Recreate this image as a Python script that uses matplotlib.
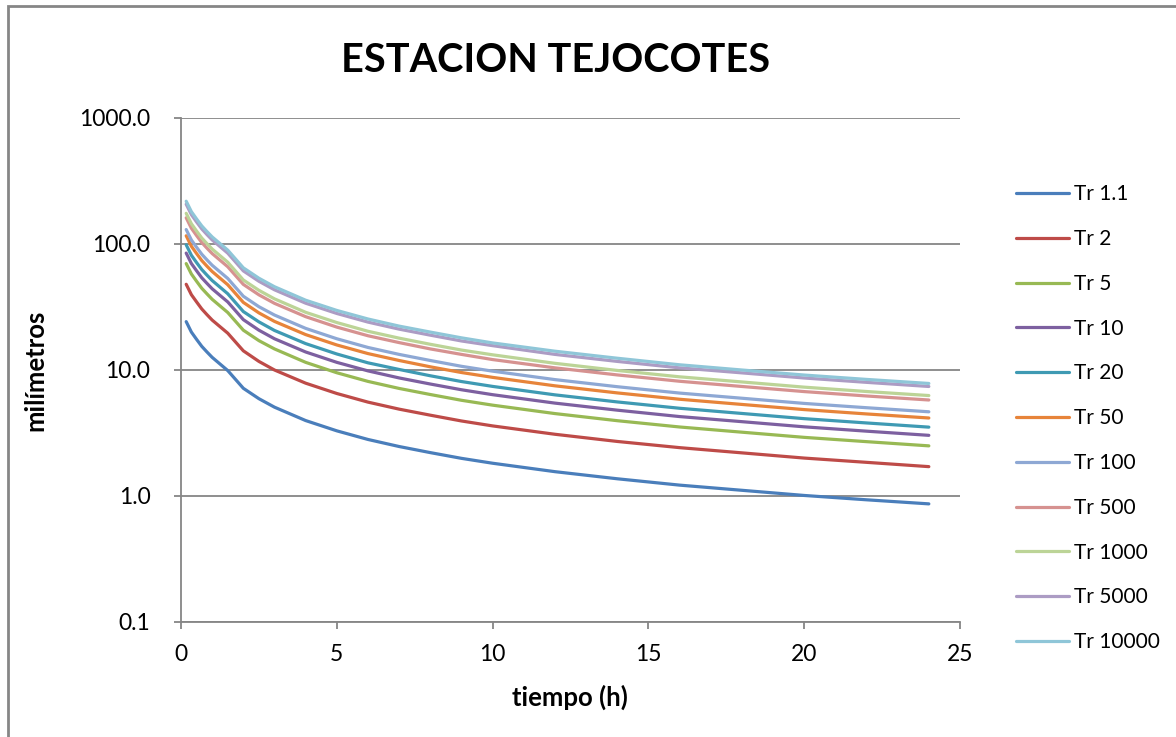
import matplotlib.pyplot as plt
from matplotlib.patches import Rectangle
from matplotlib.ticker import FixedLocator, NullLocator

plt.rcParams['font.family'] = ['Lato', 'DejaVu Sans']

tiempo = [0.167, 0.333, 0.5, 0.667, 0.833, 1, 1.5, 2, 2.5, 3, 4, 5, 6, 7, 8, 9, 10,
          12, 14, 16, 18, 20, 22, 24]

tr_1_1 = [24.2, 20.0, 17.5, 15.4, 13.9, 12.6, 9.9, 7.16, 5.92, 5.07, 3.97, 3.29, 2.81,
          2.47, 2.21, 1.99, 1.82, 1.56, 1.37, 1.22, 1.11, 1.01, 0.933, 0.866]
tr_2 = [47.9, 39.6, 34.7, 30.5, 27.5, 24.9, 19.6, 14.2, 11.7, 10.0, 7.86, 6.51, 5.56,
        4.89, 4.38, 3.94, 3.60, 3.09, 2.71, 2.42, 2.20, 2.00, 1.85, 1.71]
tr_5 = [69.9, 57.8, 50.6, 44.5, 40.2, 36.4, 28.6, 20.7, 17.1, 14.7, 11.5, 9.51, 8.12,
        7.14, 6.39, 5.75, 5.26, 4.51, 3.96, 3.53, 3.21, 2.92, 2.70, 2.50]
tr_10 = [84.7, 70.0, 61.3, 53.9, 48.7, 44.1, 34.7, 25.1, 20.7, 17.7, 13.9, 11.5, 9.84,
         8.65, 7.74, 6.97, 6.37, 5.46, 4.80, 4.27, 3.89, 3.54, 3.27, 3.03]
tr_20 = [98.5, 81.4, 71.2, 62.7, 56.6, 51.3, 40.3, 29.1, 24.1, 20.6, 16.2, 13.4, 11.4,
         10.1, 9.00, 8.10, 7.41, 6.35, 5.58, 4.97, 4.52, 4.11, 3.80, 3.52]
tr_50 = [116.2, 96.0, 84.0, 73.9, 66.7, 60.5, 47.5, 34.4, 28.4, 24.3, 19.1, 15.8, 13.5,
         11.9, 10.6, 9.55, 8.74, 7.49, 6.58, 5.86, 5.33, 4.85, 4.48, 4.16]
tr_100 = [130.2, 107.6, 94.2, 82.9, 74.8, 67.8, 53.3, 38.5, 31.8, 27.3, 21.4, 17.7, 15.1,
          13.3, 11.9, 10.7, 9.79, 8.39, 7.37, 6.56, 5.97, 5.43, 5.02, 4.66]
tr_500 = [161.4, 133.4, 116.7, 102.7, 92.7, 84.0, 66.0, 47.8, 39.5, 33.8, 26.5, 21.9, 18.7,
          16.5, 14.7, 13.3, 12.1, 10.4, 9.14, 8.14, 7.40, 6.74, 6.22, 5.78]
tr_1000 = [175.2, 144.8, 126.7, 111.5, 100.6, 91.2, 71.7, 51.8, 42.9, 36.7, 28.7, 23.8, 20.3,
           17.9, 16.0, 14.4, 13.2, 11.3, 9.92, 8.83, 8.04, 7.31, 6.75, 6.27]
tr_5000 = [206.9, 171.0, 149.6, 131.7, 118.8, 107.7, 84.6, 61.2, 50.6, 43.3, 33.9, 28.1, 24.0,
           21.1, 18.9, 17.0, 15.6, 13.3, 11.7, 10.4, 9.49, 8.64, 7.98, 7.40]
tr_10000 = [218.5, 180.6, 158.0, 139.1, 125.5, 113.8, 89.4, 64.7, 53.5, 45.8, 35.8, 29.7, 25.4,
            22.3, 20.0, 18.0, 16.4, 14.1, 12.4, 11.0, 10.0, 9.12, 8.42, 7.82]

series = [tr_1_1, tr_2, tr_5, tr_10, tr_20, tr_50, tr_100, tr_500, tr_1000, tr_5000, tr_10000]
labels = ["Tr 1.1", "Tr 2", "Tr 5", "Tr 10", "Tr 20", "Tr 50", "Tr 100", "Tr 500",
          "Tr 1000", "Tr 5000", "Tr 10000"]
colors = ["#4A7EBB", "#BE4B48", "#98B954", "#7D60A0", "#3F9AB3", "#E7843A",
          "#8EA8D4", "#D69290", "#BCD497", "#AC9CC4", "#8FC6D8"]

y_ticks = [0.1, 1, 10, 100, 1000]
y_labels = ["0.1", "1.0", "10.0", "100.0", "1000.0"]
x_ticks = [0, 5, 10, 15, 20, 25]

fig = plt.figure(figsize=(11.76, 7.37), dpi=100)
fig.patches.append(Rectangle((8 / 1176, -0.1), 1.2, 1.1 - 6 / 737, transform=fig.transFigure,
                             fill=False, edgecolor="#868686", linewidth=2))

ax = fig.add_axes([181 / 1176, 1 - 622 / 737, (960 - 181) / 1176, (622 - 118) / 737])

for vals, lab, col in zip(series, labels, colors):
    ax.plot(tiempo, vals, color=col, linewidth=2.3, label=lab,
            solid_capstyle="round", solid_joinstyle="round")

ax.set_yscale("log")
ax.set_ylim(0.1, 1000)
ax.set_xlim(0, 25)
ax.yaxis.set_major_locator(FixedLocator(y_ticks))
ax.yaxis.set_minor_locator(NullLocator())
ax.set_yticklabels(y_labels)
ax.set_xticks(x_ticks)
ax.grid(axis="y", color="#868686", linewidth=1.3)
ax.set_axisbelow(True)

for s in ["top", "right"]:
    ax.spines[s].set_visible(False)
for s in ["left", "bottom"]:
    ax.spines[s].set_color("#868686")
    ax.spines[s].set_linewidth(1.3)
ax.tick_params(axis="both", length=5, width=1.3, color="#868686", labelsize=16.5)
ax.tick_params(axis="y", pad=17)
ax.tick_params(axis="x", pad=11)

fig.text(35 / 1176, 1 - 370 / 737, "milímetros", fontsize=18.5, fontweight="bold",
         rotation=90, ha="center", va="center")
fig.text(570 / 1176, 1 - 697 / 737, "tiempo (h)", fontsize=18.5, fontweight="bold",
         ha="center", va="center")
fig.text(0.472, 1 - 60 / 737, "ESTACION TEJOCOTES", fontsize=28.5, fontweight="bold",
         ha="center", va="center")

ax.legend(loc="upper left", bbox_to_anchor=(1008 / 1176, 1 - 176 / 737),
          bbox_transform=fig.transFigure, frameon=False, fontsize=15,
          handlelength=2.55, handletextpad=0.2, labelspacing=1.19, borderaxespad=0)

fig.savefig("out.png", dpi=100)
